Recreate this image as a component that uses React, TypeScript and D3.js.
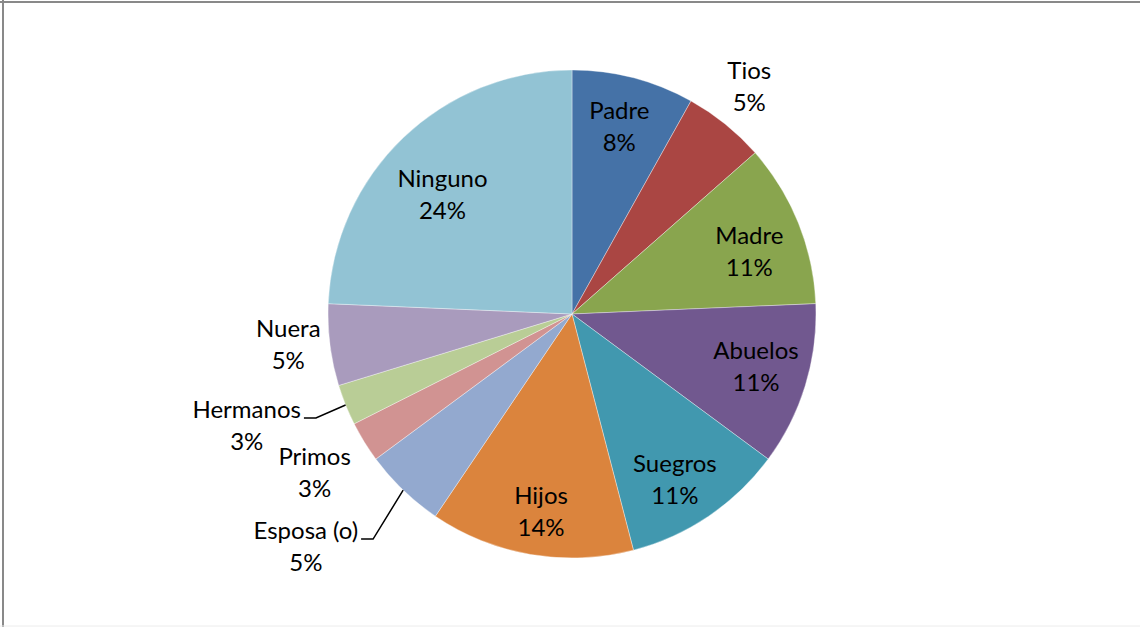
import { useEffect, useRef } from "react"
import * as d3 from "d3"

// respondents per category (n = 37), clockwise from 12 o'clock
const categories = ["Padre", "Tios", "Madre", "Abuelos", "Suegros", "Hijos", "Esposa (o)", "Primos", "Hermanos", "Nuera", "Ninguno"]
const counts = [3, 2, 4, 4, 4, 5, 2, 1, 1, 2, 9]
const colors = ["#4572A7", "#AA4643", "#89A54E", "#71588F", "#4198AF", "#DB843D", "#93A9CF", "#D19392", "#B9CD96", "#A99BBD", "#92C3D4"]

// label placement: [angle in degrees, radius as a fraction of R, leader line?]
const labelPos: Record<string, [number, number, boolean]> = {
  Padre: [14.2, 0.79, false],
  Tios: [38, 1.18, false],
  Madre: [70.7, 0.77, false],
  Abuelos: [106.1, 0.785, false],
  Suegros: [148.2, 0.8, false],
  Hijos: [188.9, 0.82, false],
  "Esposa (o)": [228.8, 1.45, true],
  Primos: [238.3, 1.24, false],
  Hermanos: [251, 1.41, true],
  Nuera: [263.7, 1.17, false],
  Ninguno: [312.5, 0.72, false],
}

export default function App() {
  const svgRef = useRef<SVGSVGElement>(null)

  useEffect(() => {
    if (!svgRef.current) return
    const svg = d3.select(svgRef.current)
    svg.selectAll("*").remove()

    const width = 1140
    const height = 627
    const cx = 572
    const cy = 314
    const R = 244
    const total = d3.sum(counts)

    // chart frame
    svg.append("rect").attr("width", width).attr("height", height).attr("fill", "#fff")
    svg.append("line").attr("x1", 0).attr("x2", width).attr("y1", 2).attr("y2", 2).attr("stroke", "#898989").attr("stroke-width", 2)
    svg.append("line").attr("x1", 3).attr("x2", 3).attr("y1", 0).attr("y2", height).attr("stroke", "#898989").attr("stroke-width", 2)
    svg.append("line").attr("x1", 0).attr("x2", width).attr("y1", 626).attr("y2", 626).attr("stroke", "#ececec").attr("stroke-width", 1)

    const data = categories.map((name, i) => ({ name, value: counts[i], color: colors[i] }))

    const pie = d3
      .pie<{ name: string; value: number; color: string }>()
      .sort(null)
      .value((d) => d.value)

    const arc = d3.arc<d3.PieArcDatum<{ name: string; value: number; color: string }>>().innerRadius(0).outerRadius(R)

    const g = svg.append("g").attr("transform", `translate(${cx},${cy})`)
    const arcs = pie(data)

    g.selectAll(".slice")
      .data(arcs)
      .enter()
      .append("path")
      .attr("class", "slice")
      .attr("d", arc)
      .attr("fill", (d) => d.data.color)
      .attr("stroke", "#ffffff")
      .attr("stroke-opacity", 0.6)
      .attr("stroke-width", 0.6)

    const font = "Lato, 'Open Sans', sans-serif"
    const fontSize = 24
    const lineGap = 32

    const polar = (deg: number, r: number): [number, number] => {
      const a = (deg * Math.PI) / 180
      return [r * Math.sin(a), -r * Math.cos(a)]
    }

    arcs.forEach((d) => {
      const name = d.data.name
      const pct = `${Math.round((d.data.value / total) * 100)}%`
      const pos = labelPos[name]
      const [x, y] = polar(pos[0], pos[1] * R)
      const t = g
        .append("text")
        .attr("text-anchor", "middle")
        .attr("font-family", font)
        .attr("font-size", fontSize)
        .attr("fill", "#000")
      const base1 = y - lineGap / 2 + 8
      t.append("tspan").attr("x", x).attr("y", base1).text(name)
      t.append("tspan").attr("x", x).attr("y", base1 + lineGap).text(pct)

      if (pos[2]) {
        const mid = (d.startAngle + d.endAngle) / 2
        const edge: [number, number] = [R * Math.sin(mid), -R * Math.cos(mid)]
        const w = (t.select("tspan").node() as SVGTSpanElement).getComputedTextLength()
        const x0 = x + w / 2 + 3
        const line = d3.line()
        g.append("path")
          .attr("d", line([[x0, base1], [x0 + 12, base1], edge]))
          .attr("fill", "none")
          .attr("stroke", "#000")
          .attr("stroke-width", 1.5)
      }
    })
  }, [])

  return (
    <svg
      ref={svgRef}
      width={1140}
      height={627}
      style={{ position: "absolute", left: 0, top: 0, display: "block" }}
    />
  )
}
